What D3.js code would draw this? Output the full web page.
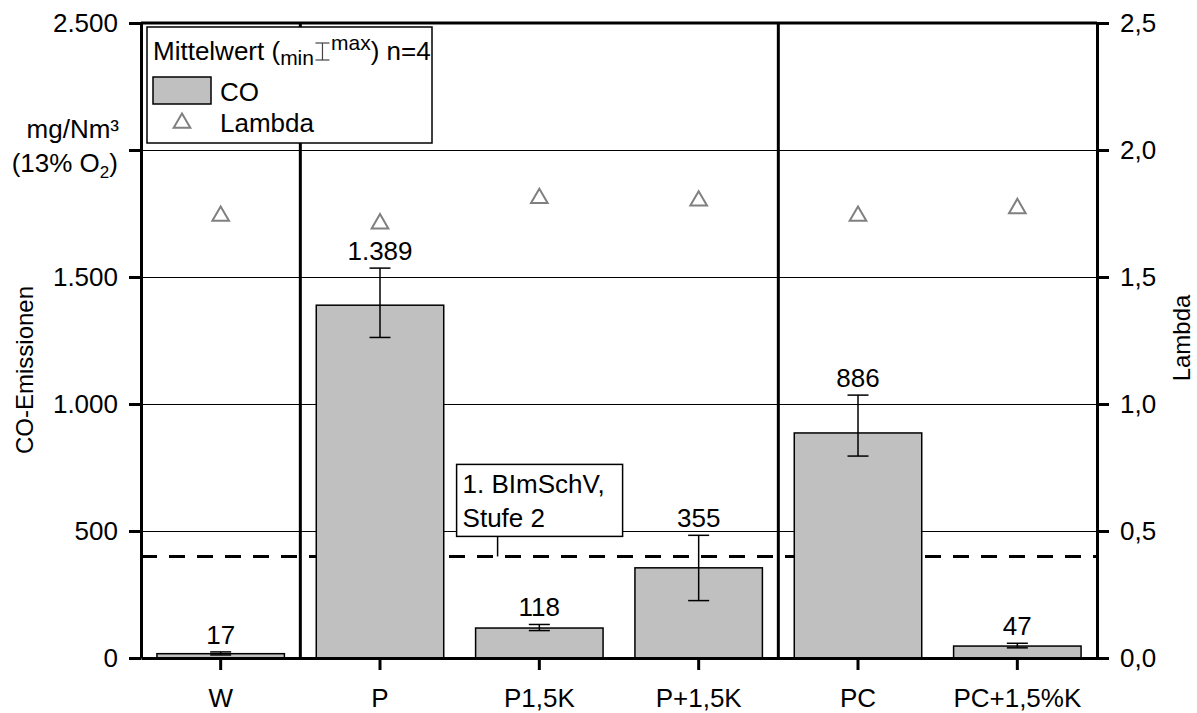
<!DOCTYPE html>
<html>
<head>
<meta charset="utf-8">
<script src="https://cdn.jsdelivr.net/npm/d3@7"></script>
<style>
  body { margin: 0; background: #fff; }
  svg { display: block; font-family: "Liberation Sans", Arial, sans-serif; }
  .axis text { font-size: 26px; fill: #000; }
  .axis path, .axis line { stroke: #000; }
</style>
</head>
<body>
<script>
// data
const categories = ['W', 'P', 'P1,5K', 'P+1,5K', 'PC', 'PC+1,5%K'];
const coValues = [17, 1389, 118, 355, 886, 47];
const coMin = [12, 1262, 108, 226, 795, 40];
const coMax = [24, 1535, 132, 483, 1035, 58];
const lambdaValues = [1.74, 1.71, 1.81, 1.80, 1.74, 1.77];
const coTicks = [0, 500, 1000, 1500, 2000, 2500];
const lambdaTicks = [0, 0.5, 1, 1.5, 2, 2.5];
const groupStarts = ['P', 'PC'];
const limitValue = 400;
const limitText = ['1. BImSchV,', 'Stufe 2'];

const de = d3.formatLocale({ decimal: ',', thousands: '.', grouping: [3], currency: ['', '€'] });

const W = 1197, H = 713;
const padding = { top: 23, right: 100, bottom: 55, left: 141 };
const width = W - padding.left - padding.right;
const height = H - padding.top - padding.bottom;

const svg = d3.select('body').append('svg')
  .attr('width', W)
  .attr('height', H);

const g = svg.append('g')
  .attr('transform', 'translate(' + padding.left + ',' + padding.top + ')');

const xScale = d3.scaleBand()
  .domain(categories)
  .range([0, width])
  .paddingInner(0.2)
  .paddingOuter(0.1);

const yScale = d3.scaleLinear().domain([0, 2500]).range([height, 0]);
const yScaleR = d3.scaleLinear().domain([0, 2.5]).range([height, 0]);

const data = categories.map((c, i) => ({
  cat: c, co: coValues[i], min: coMin[i], max: coMax[i], lambda: lambdaValues[i]
}));

// gridlines
g.append('g')
  .selectAll('line')
  .data(coTicks.filter((t) => t > 0 && t < 2500))
  .enter()
  .append('line')
  .attr('x1', 0)
  .attr('x2', width)
  .attr('y1', (d) => yScale(d) + 0.5)
  .attr('y2', (d) => yScale(d) + 0.5)
  .attr('stroke', '#000')
  .attr('stroke-width', 1.2);

// limit line
g.append('line')
  .attr('x1', 0)
  .attr('x2', width)
  .attr('y1', yScale(limitValue))
  .attr('y2', yScale(limitValue))
  .attr('stroke', '#000')
  .attr('stroke-width', 3)
  .attr('stroke-dasharray', '16,12');

// bars
g.append('g')
  .selectAll('rect')
  .data(data)
  .enter()
  .append('rect')
  .attr('x', (d) => xScale(d.cat))
  .attr('y', (d) => yScale(d.co))
  .attr('width', xScale.bandwidth())
  .attr('height', (d) => height - yScale(d.co))
  .attr('fill', '#c0c0c0')
  .attr('stroke', '#000')
  .attr('stroke-width', 1.5);

// error bars
const err = g.append('g')
  .attr('stroke', '#000')
  .attr('stroke-width', 1.5)
  .selectAll('g')
  .data(data)
  .enter()
  .append('g')
  .attr('transform', (d) => 'translate(' + (xScale(d.cat) + xScale.bandwidth() / 2) + ',0)');
err.append('line')
  .attr('y1', (d) => yScale(d.min))
  .attr('y2', (d) => yScale(d.max));
err.append('line')
  .attr('x1', -10.5).attr('x2', 10.5)
  .attr('y1', (d) => yScale(d.min))
  .attr('y2', (d) => yScale(d.min));
err.append('line')
  .attr('x1', -10.5).attr('x2', 10.5)
  .attr('y1', (d) => yScale(d.max))
  .attr('y2', (d) => yScale(d.max));

// group separators
g.append('g')
  .selectAll('line')
  .data(groupStarts)
  .enter()
  .append('line')
  .attr('x1', (d) => xScale(d) - xScale.step() * xScale.paddingInner() / 2)
  .attr('x2', (d) => xScale(d) - xScale.step() * xScale.paddingInner() / 2)
  .attr('y1', 0)
  .attr('y2', height)
  .attr('stroke', '#000')
  .attr('stroke-width', 3);

// top frame line
g.append('line')
  .attr('x1', 0).attr('x2', width)
  .attr('y1', 0).attr('y2', 0)
  .attr('stroke', '#000')
  .attr('stroke-width', 3);

// axes
const yAxis = d3.axisLeft(yScale)
  .tickValues(coTicks)
  .tickSize(12)
  .tickSizeOuter(0)
  .tickPadding(11)
  .tickFormat((d) => d === 2000 ? '' : de.format(',')(d));
g.append('g').attr('class', 'axis').call(yAxis);

const yAxisR = d3.axisRight(yScaleR)
  .tickValues(lambdaTicks)
  .tickSize(12)
  .tickSizeOuter(0)
  .tickPadding(11)
  .tickFormat(de.format('.1f'));
g.append('g').attr('class', 'axis')
  .attr('transform', 'translate(' + width + ',0)')
  .call(yAxisR);

const xAxis = d3.axisBottom(xScale)
  .tickSize(12)
  .tickSizeOuter(0)
  .tickPadding(19);
g.append('g').attr('class', 'axis')
  .attr('transform', 'translate(0,' + height + ')')
  .call(xAxis);

svg.selectAll('.axis path').attr('stroke-width', 3);
svg.selectAll('.axis line').attr('stroke-width', 3);
svg.selectAll('.axis text').attr('font-family', '"Liberation Sans", Arial, sans-serif');

// value labels with white background
const labels = g.append('g')
  .selectAll('g')
  .data(data)
  .enter()
  .append('g');
labels.append('text')
  .attr('x', (d) => xScale(d.cat) + xScale.bandwidth() / 2)
  .attr('y', (d) => yScale(d.max) - 8)
  .attr('text-anchor', 'middle')
  .attr('font-size', 26)
  .text((d) => de.format(',')(d.co));
labels.each(function () {
  const grp = d3.select(this);
  const bb = grp.select('text').node().getBBox();
  grp.insert('rect', 'text')
    .attr('x', bb.x - 1)
    .attr('y', bb.y + 3)
    .attr('width', bb.width + 2)
    .attr('height', bb.height - 6)
    .attr('fill', '#fff');
});

// lambda markers
const tri = d3.symbol(d3.symbolTriangle, 120);
g.append('g')
  .selectAll('path')
  .data(data)
  .enter()
  .append('path')
  .attr('d', tri)
  .attr('transform', (d) => 'translate(' + (xScale(d.cat) + xScale.bandwidth() / 2) + ',' + yScaleR(d.lambda) + ')')
  .attr('fill', 'none')
  .attr('stroke', '#808080')
  .attr('stroke-width', 2);

// limit annotation
const annX = xScale('P1,5K');
const annY = yScale(limitValue);
g.append('line')
  .attr('x1', annX + 22).attr('x2', annX + 22)
  .attr('y1', annY - 20).attr('y2', annY)
  .attr('stroke', '#000')
  .attr('stroke-width', 1.5);
g.append('rect')
  .attr('x', annX - 19)
  .attr('y', annY - 92)
  .attr('width', 166)
  .attr('height', 72)
  .attr('fill', '#fff')
  .attr('stroke', '#000')
  .attr('stroke-width', 1.5);
g.append('text')
  .attr('font-size', 26)
  .selectAll('tspan')
  .data(limitText)
  .enter()
  .append('tspan')
  .attr('x', annX - 13)
  .attr('y', (d, i) => annY - 63 + i * 34)
  .text((d) => d);

// axis titles
svg.append('text')
  .attr('transform', 'translate(33,370) rotate(-90)')
  .attr('text-anchor', 'middle')
  .attr('font-size', 24)
  .text('CO-Emissionen');
svg.append('text')
  .attr('transform', 'translate(1190,338) rotate(-90)')
  .attr('text-anchor', 'middle')
  .attr('font-size', 24)
  .text('Lambda');

const unit = svg.append('text')
  .attr('text-anchor', 'end')
  .attr('font-size', 26);
unit.append('tspan').attr('x', 119).attr('y', 138).text('mg/Nm³');
const unit2 = svg.append('text')
  .attr('text-anchor', 'end')
  .attr('font-size', 26)
  .attr('x', 118)
  .attr('y', 172);
unit2.append('tspan').text('(13% O');
unit2.append('tspan').attr('font-size', 17).attr('dy', 6).text('2');
unit2.append('tspan').attr('dy', -6).text(')');

// legend
const legend = svg.append('g').attr('transform', 'translate(147,27)');
legend.append('rect')
  .attr('width', 285)
  .attr('height', 116)
  .attr('fill', '#fff')
  .attr('stroke', '#000')
  .attr('stroke-width', 1.5);
const lt = legend.append('text').attr('x', 6).attr('y', 33).attr('font-size', 26);
lt.append('tspan').text('Mittelwert (');
lt.append('tspan').attr('font-size', 21).attr('dy', 5).text('min');
lt.append('tspan').attr('font-size', 17).attr('dy', -5).text('\u2003');
lt.append('tspan').attr('font-size', 21).attr('dy', -10).text('max');
lt.append('tspan').attr('dy', 10).text(') n=4');
// error bar glyph in the legend title
const lnode = lt.node();
const gapIdx = 'Mittelwert ('.length + 'min'.length;
const gs = lnode.getStartPositionOfChar(gapIdx);
const ge = lnode.getEndPositionOfChar(gapIdx);
const gx = (gs.x + ge.x) / 2;
const beam = legend.append('g').attr('stroke', '#444').attr('stroke-width', 1.2);
beam.append('line').attr('x1', gx).attr('x2', gx).attr('y1', 16).attr('y2', 33);
beam.append('line').attr('x1', gx - 7).attr('x2', gx + 7).attr('y1', 16).attr('y2', 16);
beam.append('line').attr('x1', gx - 7).attr('x2', gx + 7).attr('y1', 33).attr('y2', 33);

legend.append('rect')
  .attr('x', 6).attr('y', 50)
  .attr('width', 58).attr('height', 27)
  .attr('fill', '#c0c0c0')
  .attr('stroke', '#000')
  .attr('stroke-width', 1.5);
legend.append('text').attr('x', 73).attr('y', 74).attr('font-size', 26).text('CO');
legend.append('path')
  .attr('d', tri)
  .attr('transform', 'translate(35,96)')
  .attr('fill', 'none')
  .attr('stroke', '#808080')
  .attr('stroke-width', 2);
legend.append('text').attr('x', 73).attr('y', 105).attr('font-size', 26).text('Lambda');
</script>
</body>
</html>
